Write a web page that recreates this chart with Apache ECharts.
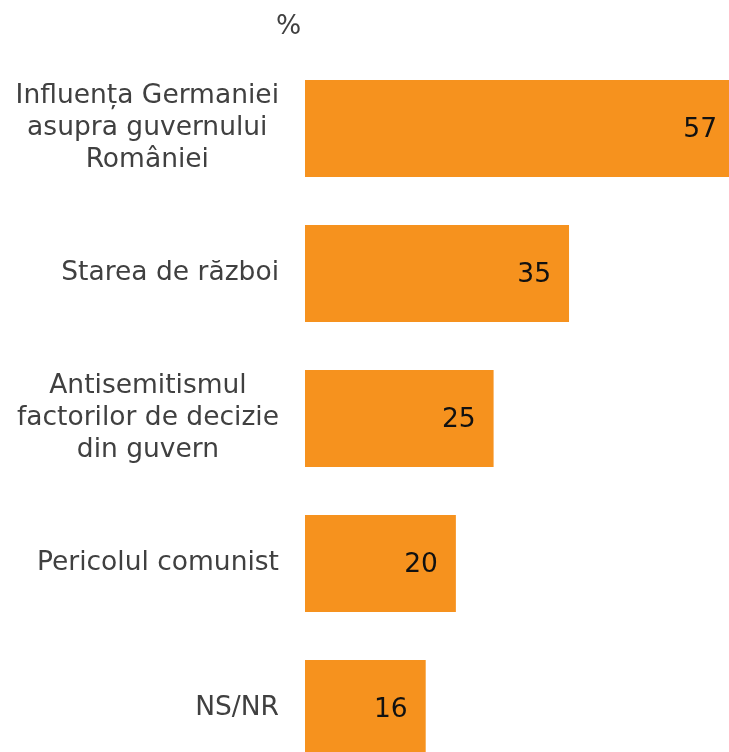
<!DOCTYPE html>
<html>
<head>
<meta charset="utf-8">
<script src="https://cdn.jsdelivr.net/npm/echarts@6/dist/echarts.min.js"></script>
<style>
html,body{margin:0;padding:0;background:#fff;}
#chart{width:729px;height:752px;}
</style>
</head>
<body>
<div id="chart"></div>
<script>
const categories = [
  "Influența Germaniei\nasupra guvernului\nRomâniei",
  "Starea de război",
  "Antisemitismul\nfactorilor de decizie\ndin guvern",
  "Pericolul comunist",
  "NS/NR"
];
const values = [57, 35, 25, 20, 16];
const unitLabel = "%";

const chart = echarts.init(document.getElementById('chart'));
const FONT = '"DejaVu Sans", Verdana, sans-serif';
const FS = 26.5;
chart.setOption({
  animation: false,
  backgroundColor: '#ffffff',
  title: {
    text: unitLabel,
    left: 271,
    top: 9,
    textStyle: { fontFamily: FONT, fontSize: FS, fontWeight: 'normal', color: '#404040' }
  },
  grid: { left: 305, right: -6, top: 56, height: 725, containLabel: false, outerBoundsMode: 'none' },
  xAxis: {
    type: 'value', min: 0, max: 57, show: false
  },
  yAxis: {
    type: 'category', inverse: true, data: categories,
    axisLine: { show: false }, axisTick: { show: false }, splitLine: { show: false },
    axisLabel: {
      margin: 26,
      align: 'right',
      fontFamily: FONT, fontSize: FS, color: '#404040', lineHeight: 32,
      formatter: function (v) {
        return v.split('\n').map(function (l) { return '{c|' + l + '}'; }).join('\n');
      },
      rich: { c: { align: 'center', fontFamily: FONT, fontSize: FS, color: '#404040', lineHeight: 32 } }
    }
  },
  series: [{
    type: 'bar',
    data: values,
    barCategoryGap: '33%',
    itemStyle: { color: '#F6921E' },
    label: {
      show: true, position: 'insideRight', distance: 18, offset: [0, 2],
      fontFamily: FONT, fontSize: FS, color: '#111111'
    }
  }]
});
</script>
</body>
</html>
